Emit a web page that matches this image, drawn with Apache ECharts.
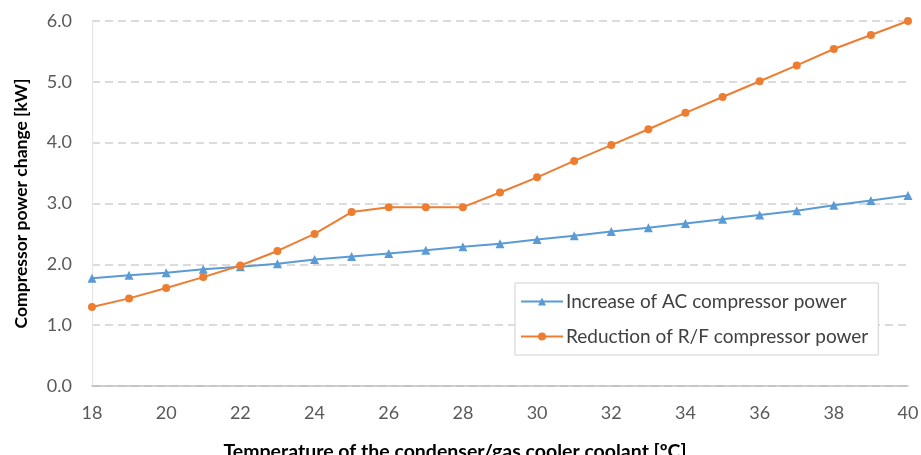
<!DOCTYPE html>
<html><head><meta charset="utf-8">
<script src="https://cdn.jsdelivr.net/npm/echarts@6/dist/echarts.min.js"></script>
<style>html,body{margin:0;padding:0;background:#fff}#c{width:921px;height:455px}</style>
</head><body><div id="c"></div>
<script>
var temps = [18,19,20,21,22,23,24,25,26,27,28,29,30,31,32,33,34,35,36,37,38,39,40];
var acIncrease = [1.77,1.82,1.86,1.92,1.96,2.01,2.08,2.13,2.18,2.23,2.29,2.34,2.41,2.47,2.54,2.60,2.67,2.74,2.81,2.88,2.97,3.05,3.13];
var rfReduction = [1.30,1.44,1.61,1.79,1.98,2.22,2.50,2.86,2.94,2.94,2.94,3.18,3.43,3.70,3.96,4.22,4.49,4.75,5.01,5.27,5.54,5.77,6.00];
var seriesNames = ['Increase of AC compressor power','Reduction of R/F compressor power'];
var xTitle = 'Temperature of the condenser/gas cooler coolant [ºC]';
var yTitle = 'Compressor power change [kW]';

var font = 'Lato, "Open Sans", sans-serif';
var chart = echarts.init(document.getElementById('c'));
function pairs(v){ return temps.map(function(t,i){ return [t, v[i]]; }); }
chart.setOption({
  animation: false,
  grid: {left: 92, right: 13, top: 21, bottom: 69, containLabel: false, outerBoundsMode: 'none'},
  xAxis: {
    type: 'value', min: 18, max: 40, interval: 2,
    name: xTitle, nameLocation: 'middle', nameGap: 56,
    nameTextStyle: {fontFamily: font, fontWeight: 'bold', fontSize: 19.5, color: '#000', padding: [0, 90, 0, 0]},
    axisLine: {lineStyle: {color: '#bfbfbf', width: 1.5}},
    axisTick: {show: false},
    axisLabel: {fontFamily: font, fontSize: 18, color: '#595959', margin: 18},
    splitLine: {show: false}
  },
  yAxis: {
    type: 'value', min: 0, max: 6, interval: 1,
    name: yTitle, nameLocation: 'middle', nameGap: 62, nameRotate: 90,
    nameTextStyle: {fontFamily: font, fontWeight: 'bold', fontSize: 17.5, color: '#000'},
    axisLine: {show: true, lineStyle: {color: '#e4e4e4', width: 1}},
    axisTick: {show: false},
    axisLabel: {fontFamily: font, fontSize: 18, color: '#595959', margin: 20,
      formatter: function(v){ return v.toFixed(1); }},
    splitLine: {lineStyle: {color: '#d0d0d0', type: [8,5], width: 1.5}}
  },
  legend: {
    orient: 'vertical', left: 515, top: 283, width: 362,
    padding: [9, 10, 9, 5], itemGap: 16, itemWidth: 42, itemHeight: 10,
    backgroundColor: '#fff', borderColor: '#d0d0d0', borderWidth: 1,
    textStyle: {fontFamily: font, fontSize: 19, color: '#404040', padding: [0,0,0,-2]},
    data: seriesNames
  },
  series: [
    {name: seriesNames[0], type: 'line', data: pairs(acIncrease),
     symbol: 'triangle', symbolSize: 9,
     lineStyle: {color: '#5b9bd5', width: 2}, itemStyle: {color: '#5b9bd5'}},
    {name: seriesNames[1], type: 'line', data: pairs(rfReduction),
     symbol: 'circle', symbolSize: 8,
     lineStyle: {color: '#ed7d31', width: 2}, itemStyle: {color: '#ed7d31'}}
  ]
});
</script></body></html>
